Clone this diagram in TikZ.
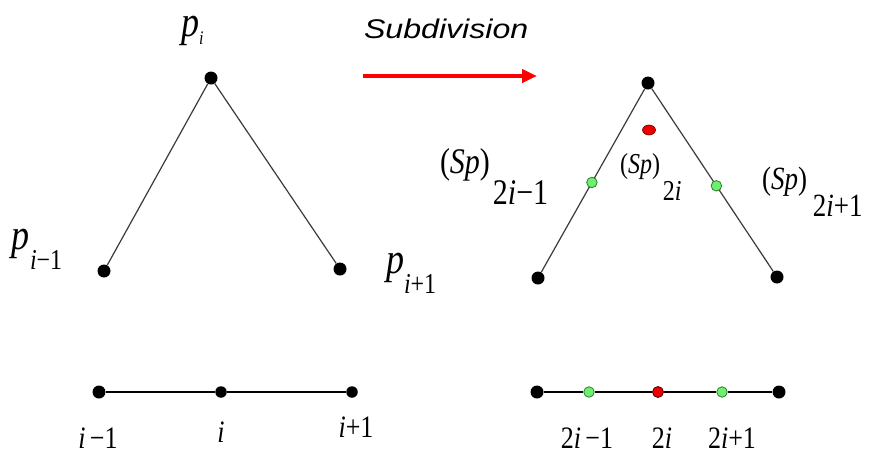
\documentclass[tikz,border=0pt]{standalone}
\usepackage{fontspec}
\setmainfont{Liberation Serif}
\setsansfont{Liberation Sans}
\usetikzlibrary{arrows.meta,calc,shapes.geometric}
\newcommand\fs[1]{\fontsize{#1}{#1}\selectfont}
\newcommand\tall[1]{\scalebox{1}[1.2]{#1}}
\newcommand\mi{\textit{i}}
\definecolor{lgreen}{HTML}{6EF06E}
\definecolor{dgreen}{HTML}{2E7D2E}
\definecolor{rdot}{HTML}{EE0000}
\definecolor{linegray}{HTML}{3A3A3A}
\begin{document}
\begin{tikzpicture}[x=1pt,y=-1pt,
  bdot/.style={circle,fill=black,inner sep=0pt,minimum size=13pt},
  sdot/.style={circle,fill=black,inner sep=0pt,minimum size=11.5pt},
  gdot/.style={circle,fill=lgreen,draw=dgreen,line width=0.8pt,inner sep=0pt,minimum size=10.5pt},
  rdotb/.style={circle,fill=rdot,draw=black!70!red,line width=0.8pt,inner sep=0pt,minimum size=11pt},
  rdott/.style={ellipse,fill=rdot,draw=black!60!red,line width=0.6pt,inner sep=0pt,minimum width=13pt,minimum height=10pt},
  edge/.style={draw=linegray,line width=1.2pt},
  axis/.style={draw=black,line width=2pt},
  lab/.style={inner sep=0pt,outer sep=0pt,text=black},
]
\useasboundingbox (0,0) rectangle (869,456);

% ---------- left polygon ----------
\node[bdot] (Pi)  at (211,78) {};
\node[bdot] (Pim) at (104,271) {};
\node[bdot] (Pip) at (340,269) {};
\draw[edge] (Pim) -- (Pi) -- (Pip);

\node[lab,anchor=base west] (Lpi) at (181,36)
  {\tall{\fs{36}\textit{p}\raisebox{-7pt}{\fs{16}\textit{i}}}};
\node[lab,anchor=base west] (Lpim) at (12,249)
  {\tall{\fs{36}\textit{p}\raisebox{-17pt}{\fs{24}\mi−1}}};
\node[lab,anchor=base west] (Lpip) at (386,273)
  {\tall{\fs{36}\textit{p}\raisebox{-17pt}{\fs{24}\mi+1}}};

% ---------- arrow ----------
\node[lab,anchor=base west,font=\sffamily\itshape] (Sub) at (364,38)
  {\scalebox{1.19}[1]{\fs{27}Subdivision}};
\coordinate (A1) at (363,76);
\coordinate (A2) at (537,76);
\draw[draw=red,line width=4pt,-{Triangle[length=15pt,width=13pt]}] (A1) -- (A2);

% ---------- right polygon ----------
\node[bdot] (Q)  at (648,83) {};
\node[bdot] (QL) at (538,278) {};
\node[bdot] (QR) at (777,277) {};
\draw[edge] (QL) -- (Q) -- (QR);
\node[gdot] (G1) at ($(Q)!0.51!(QL)$) {};
\node[gdot] (G2) at ($(Q)!0.53!(QR)$) {};
\node[rdott] (R1) at (649,130) {};

\node[lab,anchor=base west] (L2im) at (440,173)
  {\tall{\fs{30}(\textit{Sp})\hspace{3pt}\raisebox{-26pt}{2\mi−1}}};
\node[lab,anchor=base west] (L2i) at (620,173)
  {\tall{\fs{24}(\textit{Sp})\hspace{3pt}\raisebox{-23pt}{2\mi}}};
\node[lab,anchor=base west] (L2ip) at (762,189)
  {\tall{\fs{27}(\textit{Sp})\hspace{6pt}\raisebox{-23pt}{2\mi+1}}};

% ---------- bottom left axis ----------
\node[bdot] (B1) at (99,392) {};
\node[sdot] (B2) at (221,392) {};
\node[sdot] (B3) at (352,392) {};
\draw[axis] (B1) -- (B2) -- (B3);
\node[lab,anchor=base] (T1) at (98,448) {\tall{\fs{26}\mi\,−1}};
\node[lab,anchor=base] (T2) at (221,442) {\tall{\fs{26}\mi}};
\node[lab,anchor=base] (T3) at (356,437) {\tall{\fs{26}\mi+1}};

% ---------- bottom right axis ----------
\node[bdot] (C1) at (537,392) {};
\node[gdot] (C2) at (589,392) {};
\node[rdotb] (C3) at (658,392) {};
\node[gdot] (C4) at (722,392) {};
\node[bdot] (C5) at (779,392) {};
\draw[axis] (C1) -- (C2) -- (C3) -- (C4) -- (C5);
\node[lab,anchor=base] (U1) at (587,448) {\tall{\fs{26}2\mi\,−1}};
\node[lab,anchor=base] (U2) at (662,448) {\tall{\fs{26}2\mi}};
\node[lab,anchor=base] (U3) at (732,448) {\tall{\fs{26}2\mi+1}};
\end{tikzpicture}
\end{document}
